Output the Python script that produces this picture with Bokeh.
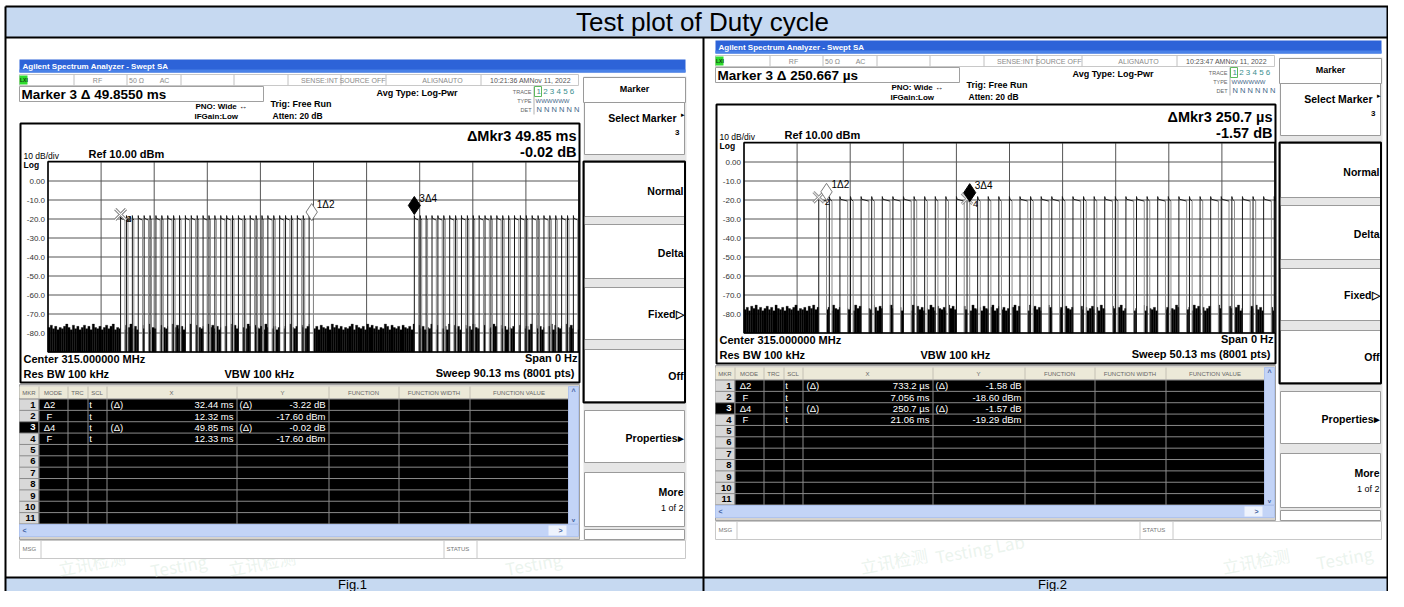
from bokeh.plotting import figure
from bokeh.models import Range1d
from bokeh.core.properties import value
from bokeh.embed import file_html
from bokeh.resources import INLINE

# ---------------- data ----------------
table_title = "Test plot of Duty cycle"
panel_captions = ["Fig.1", "Fig.2"]

y_tick_db = [0, -10, -20, -30, -40, -50, -60, -70, -80]
y_tick_labels = ["0.00", "-10.0", "-20.0", "-30.0", "-40.0", "-50.0", "-60.0", "-70.0", "-80.0"]
ref_level_db = 10.0
bottom_level_db = -90.0
time_divisions = 10

sweep_ms = [90.13, 50.13]
marker_title = ["Marker 3 \u0394 49.8550 ms", "Marker 3 \u0394 250.667 \u00b5s"]
clock_text = ["10:21:36 AMNov 11, 2022", "10:23:47 AMNov 11, 2022"]
delta_readout = ["\u0394Mkr3 49.85 ms", "\u0394Mkr3 250.7 \u00b5s"]
delta_level = ["-0.02 dB", "-1.57 dB"]
sweep_text = ["Sweep  90.13 ms (8001 pts)", "Sweep  50.13 ms (8001 pts)"]

mkr_numbers = ["1", "2", "3", "4", "5", "6", "7", "8", "9", "10", "11"]
mkr_mode = ["\u03942", "F", "\u03944", "F"]
mkr_scale = ["t", "t", "t", "t"]
mkr_is_delta = [True, False, True, False]
fig1_mkr_x = ["32.44 ms", "12.32 ms", "49.85 ms", "12.33 ms"]
fig1_mkr_y = ["-3.22 dB", "-17.60 dBm", "-0.02 dB", "-17.60 dBm"]
fig2_mkr_x = ["733.2 \u00b5s", "7.056 ms", "250.7 \u00b5s", "21.06 ms"]
fig2_mkr_y = ["-1.58 dB", "-18.60 dBm", "-1.57 dB", "-19.29 dBm"]

# fixed markers (2, 4) and delta markers (1 rel. 2, 3 rel. 4)
fig1_fixed_ms = [12.32, 12.33]
fig1_fixed_db = [-17.60, -17.60]
fig1_delta_ms = [32.44, 49.85]
fig1_delta_db = [-3.22, -0.02]
fig2_fixed_ms = [7.056, 21.06]
fig2_fixed_db = [-18.60, -19.29]
fig2_delta_ms = [0.7332, 0.2507]
fig2_delta_db = [-1.58, -1.57]

# pulse train
long_pulse_ms = 0.7332
short_pulse_ms = 0.2507
bit_period_ms = 1.0
pulse_top_db = -20.0
fig1_burst_ms = [12.32, 62.18]
fig1_bits = "LSSLLSLSLSSLLSLSSLLSLSLSSLSLLSLSL"
fig2_burst_ms = [7.056]
fig2_bits = "LSLSLSLLLSSSSLSSSSSLSLLSLSSLSLLSLSLSSLLSLSLSSL"

# noise floor peaks, one digit per bin (level = -79.5 + 0.6 * digit)
fig1_noise = ("4635243574263524635274352463572435264735"
              "2463572435264352746352437526435274635243"
              "5274635243752643527463524635274352643572"
              "3526435274635243572643527463524375264352"
              "6435274635243752643527463524635274352643"
              "4752635243572643527463524357264352746352")
fig2_noise = ("3526473524635274352643572435264735246352"
              "7435264352746352437526435274635243527463"
              "5243752643527463524635274352643572463524"
              "3572643527463524375264352643527463524635"
              "2743526435724635243572643527463524375264"
              "3527463524635274352643572435264735246352")

# faint lab watermark seen in the cells
watermark_text = ["\u7acb\u8baf\u68c0\u6d4b", "Testing", "\u7acb\u8baf\u68c0\u6d4b", "Testing",
                  "\u7acb\u8baf\u68c0\u6d4b", "Testing Lab", "\u7acb\u8baf\u68c0\u6d4b", "Testing"]
watermark_x = [58, 150, 228, 505, 860, 935, 1222, 1316]
watermark_y = [568, 570, 568, 568, 566, 556, 566, 562]

FONT = "Liberation Sans"
BAND = "#C6D9F1"
W, H = 1388, 591

# ---------------- figure (1 data unit = 1 screen pixel) ----------------
p = figure(width=W, height=H, x_range=Range1d(0, W), y_range=Range1d(H, 0),
           x_axis_type=None, y_axis_type=None, output_backend="svg",
           toolbar_location=None, min_border=0)
p.outline_line_color = None
p.background_fill_color = "white"
p.border_fill_color = "white"

GX0, GX1 = 47.5, 578.5
GY0, GY1 = 161.5, 351.5
offsets = [(0, 0), (696, -19)]
xr, yr = {}, {}
for k, (ox, oy) in enumerate(offsets):
    gx0, gx1 = GX0 + ox, GX1 + ox
    gy0, gy1 = GY0 + oy, GY1 + oy
    mpp = sweep_ms[k] / (gx1 - gx0)
    dpp = (ref_level_db - bottom_level_db) / (gy1 - gy0)
    xr[f"s{k}"] = Range1d((0 - gx0) * mpp, (W - gx0) * mpp)
    yr[f"s{k}"] = Range1d(ref_level_db - (H - gy0) * dpp, ref_level_db + (gy0 - 0) * dpp)
p.extra_x_ranges = xr
p.extra_y_ranges = yr


def box(x0, y0, x1, y1, fill="white", line=None, lw=1):
    p.quad(left=[x0], right=[x1], top=[y0], bottom=[y1], fill_color=fill,
           line_color=line, line_width=lw)


def seg(x0, y0, x1, y1, color="black", lw=1):
    p.segment(x0=[x0], y0=[y0], x1=[x1], y1=[y1], line_color=color, line_width=lw)


def txt(x, y, s, size=9, color="black", bold=False, align="left", **kw):
    p.text(x=[x], y=[y], text=[s], text_font=value(FONT), text_font_size=f"{size}px",
           text_font_style="bold" if bold else "normal", text_color=color,
           text_align=align, text_baseline="middle", **kw)


# ---------------- outer table ----------------
box(5, 6, W, 37, fill=BAND)
box(5, 577, W, H, fill=BAND)
seg(5, 6, W, 6, "black", 2)
seg(5, 37, W, 37, "black", 2)
seg(5, 577, W, 577, "black", 2)
seg(5, 6, 5, H, "black", 2)
seg(W - 1, 6, W - 1, H, "black", 2)
seg(703, 37, 703, H, "black", 2)
txt(702, 21.5, table_title, 26, "black", align="center")
txt(352, 584, panel_captions[0], 13, "black", align="center")
txt(1052, 584, panel_captions[1], 13, "black", align="center")
p.text(x=watermark_x, y=watermark_y, text=watermark_text, angle=0.18,
       text_font=value("Noto Sans CJK SC"), text_font_size="17px", text_color="#D2E6D8",
       text_alpha=0.45, text_baseline="middle")


def trace_geometry(bursts, bits, sweep, noise):
    pulses = []
    for b in bursts:
        for i, c in enumerate(bits):
            s = b + i * bit_period_ms
            w = long_pulse_ms if c == "L" else short_pulse_ms
            if s < sweep:
                pulses.append((s, min(s + w, sweep)))
    off = []
    t = 0.0
    for s, e in pulses:
        if s > t:
            off.append((t, s))
        t = max(t, e)
    if t < sweep:
        off.append((t, sweep))
    n = len(noise)
    bw = sweep / n
    L, R, T = [], [], []
    for i, d in enumerate(noise):
        a, b2 = i * bw, (i + 1) * bw
        lvl = -79.5 + 0.6 * int(d)
        for oa, ob in off:
            lo, hi = max(a, oa), min(b2, ob)
            if hi > lo:
                L.append(lo); R.append(hi); T.append(lvl)
    return pulses, L, R, T


def draw_panel(k, mkr_x, mkr_y, fixed_ms, fixed_db, delta_ms, delta_db, bursts, bits, noise):
    ox, oy = offsets[k]
    nm = f"s{k}"
    X = lambda v: v + ox
    Y = lambda v: v + oy
    # title bar
    box(X(19), Y(59), X(685), Y(72), fill="#2D63D8")
    box(X(19), Y(69), X(685), Y(72), fill="#4A82E8")
    txt(X(22), Y(65.5), "Agilent Spectrum Analyzer - Swept SA", 8, "white", True)
    # status row
    box(X(19), Y(74), X(578), Y(85), fill="white", line="#C8C8C8")
    for sx in [73, 126, 180, 233, 287, 340, 385, 480]:
        seg(X(sx) + .5, Y(74), X(sx) + .5, Y(85), "#C0C0C0")
    box(X(19), Y(75), X(27), Y(84), fill="#2EDC2E")
    txt(X(19.5), Y(79.5), "LXI", 5, "#104010", True)
    for s, cx in [("RF", 97), ("50 \u03a9", 136), ("AC", 164), ("SENSE:INT", 319),
                  ("SOURCE OFF", 362), ("ALIGNAUTO", 442)]:
        txt(X(cx), Y(80), s, 7, "#8A8A8A", align="center")
    txt(X(530), Y(80), clock_text[k], 7, "#555555", align="center")
    # marker line
    box(X(19), Y(86), X(263), Y(101), fill="white", line="#A0A0A0")
    txt(X(21), Y(94), marker_title[k], 13.5, "black", True)
    txt(X(195), Y(106), "PNO: Wide \u2194", 8, "black", True)
    txt(X(194), Y(116), "IFGain:Low", 8, "black", True)
    txt(X(270), Y(103), "Trig: Free Run", 9, "black", True)
    txt(X(272), Y(115), "Atten: 20 dB", 8.5, "black", True)
    txt(X(376), Y(92), "Avg Type: Log-Pwr", 9, "black", True)
    txt(X(531), Y(91), "TRACE", 5.5, "#666666", align="right")
    txt(X(531), Y(100), "TYPE", 5.5, "#666666", align="right")
    txt(X(531), Y(109), "DET", 5.5, "#666666", align="right")
    seg(X(533.5), Y(86), X(533.5), Y(114), "#B0B0B0")
    box(X(534), Y(86), X(541), Y(96), fill=None, line="#5CB85C")
    txt(X(536), Y(91), "1 2 3 4 5 6", 8, "#3A8F8F")
    txt(X(535), Y(100), "WWWWWW", 6, "#446688")
    txt(X(536), Y(109), "N N N N N N", 7.5, "#446688")
    # softkeys
    box(X(583), Y(76), X(686), Y(540), fill="#E6E6E6", line=None)
    box(X(583), Y(77), X(685), Y(102), fill="white", line="#9A9A9A")
    txt(X(634), Y(88), "Marker", 9, "black", True, align="center")
    keys = [(102, 154), (162, 216), (224, 278), (287, 339), (349, 401), (410, 462), (472, 526), (529, 539)]
    for ya, yb in keys:
        box(X(584), Y(ya), X(684), Y(yb), fill="white", line="#9A9A9A")
    box(X(583), Y(161), X(684.5), Y(402), fill=None, line="black", lw=2)
    txt(X(676), Y(117), "Select Marker", 10.5, "black", True, align="right")
    txt(X(684), Y(114), "\u25b8", 7, "black", align="right")
    txt(X(679), Y(132), "3", 8, "black", True, align="right")
    for s, yy in [("Normal", 190), ("Delta", 252), ("Fixed\u25b7", 313), ("Off", 375),
                  ("Properties\u25b8", 437), ("More", 491)]:
        txt(X(683), Y(yy), s, 10.5, "black", True, align="right")
    txt(X(683), Y(507), "1 of 2", 9, "black", align="right")
    # graph panel
    box(X(20), Y(123), X(579), Y(382), fill="white", line="black", lw=2)
    txt(X(576), Y(135), delta_readout[k], 14.5, "black", True, align="right")
    txt(X(576), Y(151), delta_level[k], 14.5, "black", True, align="right")
    txt(X(23), Y(155), "10 dB/div", 8.5, "black")
    txt(X(88), Y(153), "Ref 10.00 dBm", 11, "black", True)
    txt(X(23), Y(164), "Log", 8.5, "black", True)
    gx0, gx1 = GX0 + ox, GX1 + ox
    sw = sweep_ms[k]
    grid_db = [ref_level_db - 10 * i for i in range(11)]
    p.segment(x0=[gx0] * 11, x1=[gx1] * 11, y0=grid_db, y1=grid_db, y_range_name=nm,
              line_color="#555555", line_width=1)
    tdiv = [sw * i / time_divisions for i in range(time_divisions + 1)]
    p.segment(x0=tdiv, x1=tdiv, y0=[bottom_level_db] * 11, y1=[ref_level_db] * 11,
              x_range_name=nm, y_range_name=nm, line_color="#555555", line_width=1)
    p.text(x=[gx0 - 3] * len(y_tick_db), y=y_tick_db, text=y_tick_labels, y_range_name=nm,
           text_font=value(FONT), text_font_size="8px", text_color="#333333",
           text_align="right", text_baseline="middle")
    # trace
    pulses, L, R, T = trace_geometry(bursts, bits, sw, noise)
    p.quad(left=L, right=R, top=T, bottom=[bottom_level_db] * len(L), x_range_name=nm,
           y_range_name=nm, fill_color="black", line_color="black", line_width=0.3)
    rs = [s for s, e in pulses]
    fe = [e for s, e in pulses]
    n = len(pulses)
    p.multi_line(xs=[[s, s + 0.06, e] for s, e in pulses],
                 ys=[[pulse_top_db + 1.8, pulse_top_db + 0.4, pulse_top_db - 0.6]] * n,
                 x_range_name=nm, y_range_name=nm, line_color="#222222", line_width=1)
    p.segment(x0=rs, x1=rs, y0=[bottom_level_db] * n, y1=[pulse_top_db + 1.8] * n,
              x_range_name=nm, y_range_name=nm, line_color="#1A1A1A", line_width=1)
    p.segment(x0=fe, x1=fe, y0=[pulse_top_db - 0.6] * n, y1=[bottom_level_db] * n,
              x_range_name=nm, y_range_name=nm, line_color="#8C8C8C", line_width=1)
    # grid frame
    box(gx0, Y(161), gx1, Y(351.5), fill=None, line="black", lw=1.5)
    # markers
    dpp = (ref_level_db - bottom_level_db) / (GY1 - GY0)
    m2, m4 = fixed_ms
    y2, y4 = fixed_db
    m1, m3 = m2 + delta_ms[0], m4 + delta_ms[1]
    y1, y3 = y2 + delta_db[0], y4 + delta_db[1]
    p.scatter(x=[m2, m4], y=[y2, y4], marker="x", size=15, line_color="#9A9A9A", line_width=3,
              x_range_name=nm, y_range_name=nm)
    p.scatter(x=[m2, m4], y=[y2, y4], marker="x", size=15, line_color="white", line_width=1,
              x_range_name=nm, y_range_name=nm)
    p.text(x=[m2, m4], y=[y2, y4], text=["2", "4"], x_offset=6, y_offset=5, x_range_name=nm,
           y_range_name=nm, text_font=value(FONT), text_font_size="9px", text_color="black",
           text_baseline="middle")
    p.scatter(x=[m1], y=[y1 + 8.5 * dpp], marker="diamond", size=17, fill_color="white",
              line_color="#7A7A7A", line_width=1, x_range_name=nm, y_range_name=nm)
    p.scatter(x=[m3], y=[y3 + 9 * dpp], marker="diamond", size=18, fill_color="black",
              line_color="black", x_range_name=nm, y_range_name=nm)
    p.text(x=[m1, m3], y=[y1, y3], text=["1\u03942", "3\u03944"], x_offset=5, y_offset=-16,
           x_range_name=nm, y_range_name=nm, text_font=value(FONT), text_font_size="10px",
           text_color="black", text_baseline="middle")
    # lower readouts
    txt(X(23), Y(358), "Center 315.000000 MHz", 11, "black", True)
    txt(X(23), Y(373), "Res BW 100 kHz", 11, "black", True)
    txt(X(224), Y(373), "VBW 100 kHz", 11, "black", True)
    txt(X(577), Y(357), "Span 0 Hz", 11, "black", True, align="right")
    txt(X(577), Y(372), sweep_text[k], 11, "black", True, align="right")
    # marker table
    box(X(19), Y(384), X(579), Y(539), fill="#D6D3CE", line="#A0A0A0")
    box(X(19), Y(386), X(568), Y(398), fill="#ECE9D8", line=None)
    cols = [38, 67, 87, 106, 236, 328, 398, 469]
    for cx in cols:
        seg(X(cx) + .5, Y(386), X(cx) + .5, Y(398), "#C4C0B4")
    for s, cx in [("MKR", 28.5), ("MODE", 52.5), ("TRC", 77), ("SCL", 96.5), ("X", 171),
                  ("Y", 282), ("FUNCTION", 363), ("FUNCTION WIDTH", 433.5), ("FUNCTION VALUE", 518.5)]:
        txt(X(cx), Y(392), s, 6, "#666666", align="center")
    rt, rh = 398.5, 11.36
    box(X(38), Y(rt), X(568), Y(rt + 11 * rh), fill="black")
    box(X(19), Y(rt), X(38), Y(rt + 11 * rh), fill="#D8D8D8")
    box(X(19), Y(rt + 2 * rh), X(38), Y(rt + 3 * rh), fill="black")
    for i in range(12):
        yy = Y(rt + i * rh)
        seg(X(19), yy, X(568), yy, "#8A8A8A")
    for cx in cols:
        seg(X(cx) + .5, Y(rt), X(cx) + .5, Y(rt + 11 * rh), "#8A8A8A")
    for i, num in enumerate(mkr_numbers):
        yy = Y(rt + (i + 0.5) * rh)
        txt(X(35), yy, num, 9.5, "white" if i == 2 else "black", True, align="right")
    for i in range(4):
        yy = Y(rt + (i + 0.5) * rh)
        txt(X(49), yy, mkr_mode[i], 9.5, "white", align="center")
        txt(X(90), yy, mkr_scale[i], 9.5, "white", align="center")
        if mkr_is_delta[i]:
            txt(X(110), yy, "(\u0394)", 9.5, "white")
            txt(X(239), yy, "(\u0394)", 9.5, "white")
        txt(X(233), yy, mkr_x[i], 9.5, "white", align="right")
        txt(X(325), yy, mkr_y[i], 9.5, "white", align="right")
    # scrollbars
    box(X(568), Y(386), X(578), Y(rt + 11 * rh), fill="#C3D4F7", line="#AFC3EE")
    txt(X(573), Y(391), "^", 7, "#4060A0", True, align="center")
    txt(X(573), Y(519), "v", 6, "#4060A0", True, align="center")
    box(X(19), Y(524), X(578), Y(536), fill="#C3D4F7", line="#AFC3EE")
    box(X(548), Y(525), X(566), Y(535), fill="#EEF3FD", line=None)
    txt(X(24), Y(530), "<", 7, "#4060A0", True, align="center")
    txt(X(560), Y(530), ">", 7, "#4060A0", True, align="center")
    # status line
    box(X(19), Y(540), X(685), Y(558), fill="white", line="#C8C8C8")
    seg(X(40.5), Y(540), X(40.5), Y(558), "#C8C8C8")
    seg(X(443.5), Y(540), X(443.5), Y(558), "#C8C8C8")
    seg(X(476.5), Y(540), X(476.5), Y(558), "#C8C8C8")
    txt(X(22), Y(548), "MSG", 6, "#777777")
    txt(X(446), Y(548), "STATUS", 6, "#777777")


draw_panel(0, fig1_mkr_x, fig1_mkr_y, fig1_fixed_ms, fig1_fixed_db, fig1_delta_ms,
           fig1_delta_db, fig1_burst_ms, fig1_bits, fig1_noise)
draw_panel(1, fig2_mkr_x, fig2_mkr_y, fig2_fixed_ms, fig2_fixed_db, fig2_delta_ms,
           fig2_delta_db, fig2_burst_ms, fig2_bits, fig2_noise)

open("out.html", "w").write(file_html(p, INLINE))
